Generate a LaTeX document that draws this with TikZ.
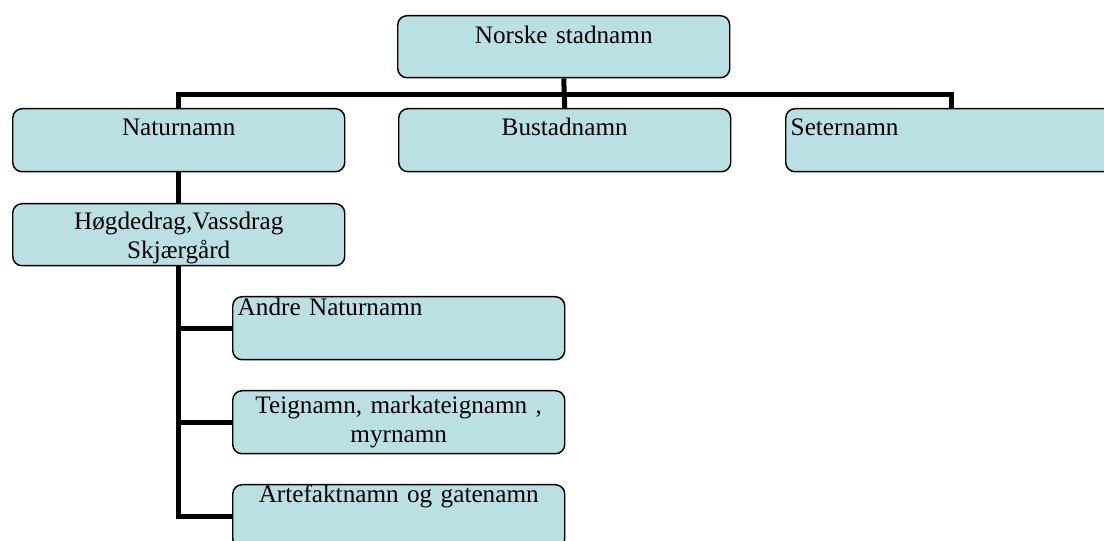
\documentclass[tikz,border=0pt]{standalone}
\usepackage{fontspec}
\setmainfont{Liberation Serif}
\usetikzlibrary{calc}
\definecolor{boxblue}{RGB}{187,224,227}

\begin{document}
\begin{tikzpicture}[x = 0.75pt, y = -0.75pt,
	box/.style = {draw, line width = 1.1pt, rounded corners = 7pt, fill = boxblue, anchor = north west,
		inner xsep = 3.75pt, inner ysep = 0pt, text width = 241.5pt, align = center,
		font = \fontsize{18.9}{21.75}\selectfont},
	link/.style = {line width = 3.75pt}]
	\clip (0,0) rectangle (1104,541);
	\node[box, text height = 21pt, text depth = 25.5pt] (Root) at (397,15) {Norske stadnamn};
	\node[box, text height = 20.25pt, text depth = 27pt] (Natur) at (12,108) {Naturnamn};
	\node[box, text height = 20.25pt, text depth = 27pt] (Bust) at (398,108) {Bustadnamn};
	\node[box, align = left, text height = 20.25pt, text depth = 27pt] (Seter) at (785,108) {Seternamn};
	\node[box, text height = 19.5pt, text depth = 27pt] (Hoeg) at (12,203) {Høgdedrag,Vassdrag\\ Skjærgård};
	\node[box, align = left, text height = 14.25pt, text depth = 33pt] (Andre) at (232,296) {Andre Naturnamn};
	\node[box, text height = 17.25pt, text depth = 30pt] (Teig) at (232,390) {Teignamn, markateignamn ,\\ myrnamn};
	\node[box, text height = 13.5pt, text depth = 33.75pt] (Arte) at (232,484) {Artefaktnamn og gatenamn};
	\coordinate (Bus) at ($(Root.south) + (0,16)$);
	\draw[link] (Root.south) -- (Bust.north);
	\draw[link] (Natur.north) |- (Bus) -| (Seter.north);
	\draw[link] (Natur.south) -- (Hoeg.north);
	\foreach \n in {Andre, Teig, Arte} \draw[link] (Hoeg.south) |- (\n.west);
\end{tikzpicture}
\end{document}
